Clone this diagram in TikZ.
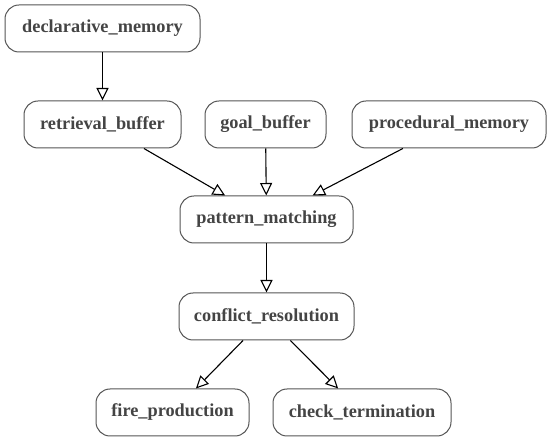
\documentclass[tikz,border=0pt]{standalone}
\usepackage{fontspec}
\setmainfont{Liberation Serif}
\usetikzlibrary{arrows.meta}
\definecolor{txt}{HTML}{444444}
\definecolor{brd}{HTML}{555555}
\begin{document}
\begin{tikzpicture}[x=1pt,y=-1pt,
  box/.style={draw=brd,line width=1pt,rounded corners=14pt,minimum height=47pt,
    inner sep=0pt,text=txt,font=\fontsize{18.3}{20}\selectfont\bfseries},
  edge/.style={draw=black,line width=1.1pt,-{Triangle[open,length=12.5pt,width=12pt]}}]
\useasboundingbox (0,0) rectangle (552,443);
\node[box,minimum width=195pt] (dm) at (102.5,28.5) {declarative\_memory};
\node[box,minimum width=157pt] (rb) at (102.5,124.5) {retrieval\_buffer};
\node[box,minimum width=121pt] (gb) at (265.5,124.5) {goal\_buffer};
\node[box,minimum width=194pt] (pm) at (449,124.5) {procedural\_memory};
\node[box,minimum width=173pt] (pat) at (266.5,219.5) {pattern\_matching};
\node[box,minimum width=175pt] (cr) at (266.5,316.5) {conflict\_resolution};
\node[box,minimum width=153pt] (fp) at (172.5,412.5) {fire\_production};
\node[box,minimum width=178pt] (ct) at (362,412.5) {check\_termination};
\draw[edge] (dm) -- (rb);
\draw[edge] (rb) -- (pat);
\draw[edge] (gb) -- (pat);
\draw[edge] (pm) -- (pat);
\draw[edge] (pat) -- (cr);
\draw[edge] (cr) -- (fp);
\draw[edge] (cr) -- (ct);
\end{tikzpicture}
\end{document}
